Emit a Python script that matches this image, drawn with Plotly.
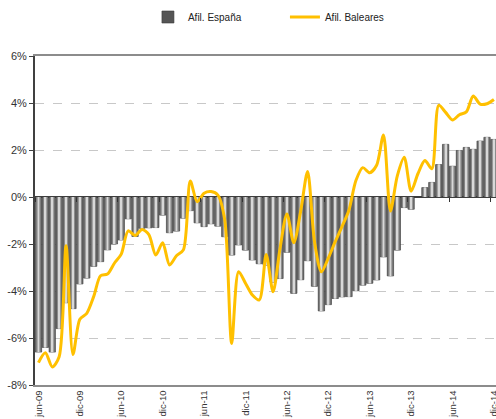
import plotly.graph_objects as go

# meses jun-09 .. dic-14
MESES = ["ene", "feb", "mar", "abr", "may", "jun", "jul", "ago", "sep", "oct", "nov", "dic"]
categorias = [f"{MESES[(5 + k) % 12]}-{9 + (5 + k) // 12:02d}" for k in range(67)]

afil_espana = [
    -6.60, -6.40, -6.60, -5.60, -4.50, -4.75, -3.70, -3.45, -2.95, -2.75,
    -2.25, -2.00, -1.83, -0.93, -1.68, -1.33, -1.31, -1.30, -0.77, -1.52,
    -1.45, -0.90, -0.58, -1.10, -1.26, -1.14, -1.24, -1.69, -2.47, -2.04,
    -2.26, -2.68, -2.84, -2.90, -3.62, -3.47, -2.35, -4.10, -3.52, -2.71,
    -3.80, -4.85, -4.58, -4.32, -4.25, -4.24, -3.99, -3.75, -3.67, -3.53,
    -2.55, -3.36, -2.26, -0.45, -0.52, 0.00, 0.40, 0.62, 1.38, 2.24,
    1.31, 1.98, 2.11, 2.03, 2.38, 2.54, 2.45,
]

afil_baleares = [
    -7.05, -6.63, -7.23, -6.80, -2.07, -6.70, -5.20, -4.95, -4.24, -3.35,
    -3.28, -2.82, -2.43, -1.44, -1.64, -1.38, -1.60, -2.47, -1.95, -2.89,
    -2.50, -2.25, 0.68, -0.20, 0.16, 0.23, 0.08, -0.98, -6.23, -3.18,
    -3.67, -4.17, -4.38, -2.45, -4.03, -2.20, -0.72, -1.95, -0.60, 1.08,
    -1.90, -3.18, -2.60, -1.90, -1.25, -0.55, 0.70, 1.25, 1.03, 1.35,
    2.64, -0.60, 0.90, 1.69, 0.25, 1.00, 1.55, 1.20, 3.90, 3.60,
    3.28, 3.50, 3.62, 4.30, 3.95, 3.97, 4.15,
]

tick_etiquetas = categorias[::6]
y_ticks = [6, 4, 2, 0, -2, -4, -6, -8]

FONT = "Liberation Sans, Arial, sans-serif"

fig = go.Figure()

# barras con efecto cilindro: capas superpuestas de distinto ancho
capas = [
    ("#555555", 0.92, True),
    ("#777777", 0.74, False),
    ("#959595", 0.52, False),
    ("#b9b9b9", 0.30, False),
    ("#d8d8d8", 0.12, False),
]
for color, ancho, leyenda in capas:
    fig.add_trace(go.Bar(
        x=categorias, y=afil_espana, width=ancho,
        name="Afil. España", showlegend=leyenda,
        marker=dict(color=color, line=dict(width=0.6 if leyenda else 0, color="#3a3a3a")),
        hoverinfo="skip" if not leyenda else None,
    ))

fig.add_trace(go.Scatter(
    x=categorias, y=afil_baleares, mode="lines", name="Afil. Baleares",
    line=dict(color="#FFC000", width=3, shape="spline", smoothing=0.8),
))

# eje auxiliar para las marcas sobre la línea del 0%
fig.add_trace(go.Scatter(x=[None], y=[None], xaxis="x2", showlegend=False, hoverinfo="skip"))

fig.update_layout(
    width=496, height=419,
    margin=dict(l=35, r=0, t=56, b=34, autoexpand=False),
    plot_bgcolor="white", paper_bgcolor="white",
    barmode="overlay",
    font=dict(family=FONT, size=11, color="#333333"),
    legend=dict(
        orientation="h", x=0.245, xanchor="left", y=1.1185, yanchor="middle",
        font=dict(size=10, color="#222222"), entrywidth=92,
        bgcolor="rgba(0,0,0,0)", itemclick=False,
    ),
    xaxis=dict(
        type="category", range=[-0.5, 66.3], automargin=False,
        tickmode="array", tickvals=tick_etiquetas, ticktext=tick_etiquetas,
        tickangle=-90, tickfont=dict(size=9.5, color="#333333"),
        showgrid=False, showline=True, mirror=True, linecolor="#8c8c8c", linewidth=1.5,
        ticks="",
    ),
    xaxis2=dict(
        overlaying="x", anchor="free", position=8 / 14, range=[-0.5, 66.3],
        tickmode="array", tickvals=[k - 0.5 for k in range(0, 67, 6)],
        ticks="outside", ticklen=4, tickcolor="#333333", tickwidth=1,
        showticklabels=False, showgrid=False, zeroline=False, showline=False,
        automargin=False,
    ),
    yaxis=dict(
        range=[-8, 6], tickmode="array", tickvals=y_ticks, automargin=False,
        ticktext=[f"{v}%" for v in y_ticks],
        showgrid=True, gridcolor="#c8c8c8", griddash="dash", gridwidth=1,
        zeroline=True, zerolinecolor="#404040", zerolinewidth=1.5,
        showline=True, linecolor="#404040", linewidth=2,
        ticks="outside", ticklen=4, tickcolor="#404040",
        tickfont=dict(size=11, color="#333333"),
    ),
)

# sin margen del body para que el gráfico ocupe la ventana exacta
fig.write_html(
    "out.html",
    config={"displayModeBar": False},
    post_script="document.body.style.margin='0';document.body.style.overflow='hidden';",
)
